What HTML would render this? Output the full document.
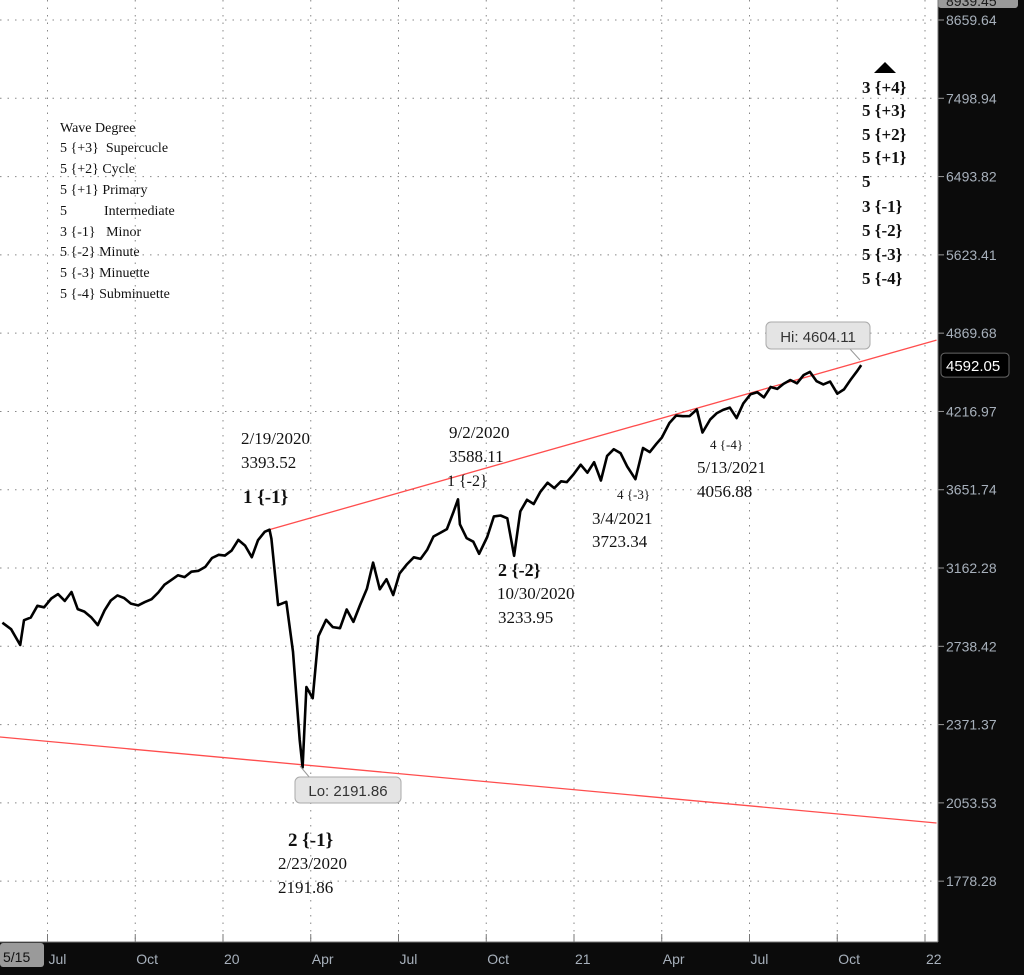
<!DOCTYPE html>
<html><head><meta charset="utf-8"><style>
body{margin:0;background:#0b0b0b;}
svg{display:block;}
.ann{font-family:"Liberation Serif",serif;fill:#111;}
.ax{font-family:"Liberation Sans",sans-serif;font-size:14px;fill:#a7b0bb;}
</style></head><body>
<svg id="c" width="1024" height="975" xmlns="http://www.w3.org/2000/svg">
<rect x="0" y="0" width="1024" height="975" fill="#0b0b0b"/>
<rect x="0" y="0" width="938" height="942" fill="#fff"/>
<g id="grid"></g>
<g id="yaxis"></g>
<g id="xaxis"></g>
<line id="upper" stroke="#ff4d4d" stroke-width="1.3"/>
<line id="lower" stroke="#ff4d4d" stroke-width="1.3"/>
<path id="price" fill="none" stroke="#000" stroke-width="2.6" stroke-linejoin="round"/>
<g class="ann" font-size="14">
<text x="60" y="132">Wave Degree</text>
<text x="60" y="152">5 {+3}&#160;&#160;Supercucle</text>
<text x="60" y="173">5 {+2}&#160;Cycle</text>
<text x="60" y="194">5 {+1}&#160;Primary</text>
<text x="60" y="215">5</text><text x="104" y="215">Intermediate</text>
<text x="60" y="236">3 {-1}&#160;&#160;&#160;Minor</text>
<text x="60" y="256">5 {-2}&#160;Minute</text>
<text x="60" y="277">5 {-3}&#160;Minuette</text>
<text x="60" y="298">5 {-4}&#160;Subminuette</text>
</g>
<g class="ann" font-size="17" font-weight="bold">
<polygon points="874,73 896,73 885,62" fill="#000"/>
<text x="862" y="93">3 {+4}</text>
<text x="862" y="116">5 {+3}</text>
<text x="862" y="140">5 {+2}</text>
<text x="862" y="163">5 {+1}</text>
<text x="862" y="187">5</text>
<text x="862" y="212">3 {-1}</text>
<text x="862" y="236">5 {-2}</text>
<text x="862" y="260">5 {-3}</text>
<text x="862" y="284">5 {-4}</text>
</g>
<g class="ann" font-size="17">
<text x="241" y="444">2/19/2020</text><text x="241" y="468">3393.52</text>
<text x="243" y="503" font-weight="bold" font-size="19">1 {-1}</text>
<text x="449" y="438">9/2/2020</text><text x="449" y="462">3588.11</text>
<text x="447" y="486" font-size="16">1 {-2}</text>
<text x="498" y="576" font-weight="bold" font-size="18">2 {-2}</text>
<text x="497" y="599">10/30/2020</text><text x="498" y="623">3233.95</text>
<text x="617" y="499" font-size="13">4 {-3}</text>
<text x="592" y="524">3/4/2021</text><text x="592" y="547">3723.34</text>
<text x="710" y="449" font-size="13">4 {-4}</text>
<text x="697" y="473">5/13/2021</text><text x="697" y="497">4056.88</text>
<text x="288" y="846" font-weight="bold" font-size="19">2 {-1}</text>
<text x="278" y="869">2/23/2020</text><text x="278" y="893">2191.86</text>
</g>
<g>
<line x1="300" y1="766" x2="310" y2="778" stroke="#999"/>
<rect x="295" y="777" width="106" height="26" rx="5" fill="#e4e4e4" stroke="#aaa"/>
<text x="348" y="796" text-anchor="middle" font-family="Liberation Sans,sans-serif" font-size="15" fill="#333">Lo: 2191.86</text>
</g>
<g>
<line x1="850" y1="349" x2="860" y2="360" stroke="#999"/>
<rect x="766" y="322" width="104" height="27" rx="5" fill="#e4e4e4" stroke="#aaa"/>
<text x="818" y="342" text-anchor="middle" font-family="Liberation Sans,sans-serif" font-size="15" fill="#333">Hi: 4604.11</text>
</g>
</svg>
<script>
const dates=["2019-05-15","2019-05-24","2019-06-03","2019-06-07","2019-06-14","2019-06-21","2019-06-28","2019-07-05","2019-07-12","2019-07-19","2019-07-26","2019-08-02","2019-08-09","2019-08-16","2019-08-23","2019-08-30","2019-09-06","2019-09-13","2019-09-20","2019-09-27","2019-10-04","2019-10-11","2019-10-18","2019-10-25","2019-11-01","2019-11-08","2019-11-15","2019-11-22","2019-11-29","2019-12-06","2019-12-13","2019-12-20","2019-12-27","2020-01-03","2020-01-10","2020-01-17","2020-01-24","2020-01-31","2020-02-07","2020-02-14","2020-02-19","2020-02-21","2020-02-28","2020-03-06","2020-03-13","2020-03-20","2020-03-23","2020-03-27","2020-04-03","2020-04-09","2020-04-17","2020-04-24","2020-05-01","2020-05-08","2020-05-15","2020-05-22","2020-05-29","2020-06-05","2020-06-12","2020-06-19","2020-06-26","2020-07-02","2020-07-10","2020-07-17","2020-07-24","2020-07-31","2020-08-07","2020-08-14","2020-08-21","2020-08-28","2020-09-02","2020-09-04","2020-09-11","2020-09-18","2020-09-24","2020-10-02","2020-10-09","2020-10-16","2020-10-23","2020-10-30","2020-11-06","2020-11-13","2020-11-20","2020-11-27","2020-12-04","2020-12-11","2020-12-18","2020-12-24","2020-12-31","2021-01-08","2021-01-15","2021-01-22","2021-01-29","2021-02-05","2021-02-12","2021-02-19","2021-02-26","2021-03-04","2021-03-12","2021-03-19","2021-03-26","2021-04-01","2021-04-09","2021-04-16","2021-04-23","2021-04-30","2021-05-07","2021-05-13","2021-05-21","2021-05-28","2021-06-04","2021-06-11","2021-06-18","2021-06-25","2021-07-02","2021-07-09","2021-07-16","2021-07-23","2021-07-30","2021-08-06","2021-08-13","2021-08-20","2021-08-27","2021-09-03","2021-09-10","2021-09-17","2021-09-24","2021-10-01","2021-10-08","2021-10-15","2021-10-22","2021-10-26"];
const closes=[2860,2826,2745,2873,2887,2950,2942,2990,3014,2977,3026,2932,2919,2889,2847,2926,2979,3007,2992,2962,2952,2970,2986,3023,3067,3093,3120,3110,3141,3146,3169,3221,3240,3235,3265,3330,3295,3226,3328,3380,3393,3338,2954,2972,2711,2305,2192,2541,2489,2790,2875,2837,2831,2930,2864,2955,3044,3194,3041,3098,3009,3130,3185,3225,3216,3271,3351,3373,3397,3508,3588,3427,3341,3319,3246,3348,3477,3483,3465,3234,3509,3585,3557,3638,3699,3663,3709,3703,3756,3824,3768,3841,3714,3886,3934,3906,3811,3723,3943,3913,3974,4019,4128,4185,4180,4181,4232,4057,4155,4204,4229,4247,4166,4280,4352,4369,4327,4411,4395,4436,4468,4441,4509,4535,4458,4432,4455,4357,4391,4471,4545,4592];
const yTicks=[8659.64,7498.94,6493.82,5623.41,4869.68,4216.97,3651.74,3162.28,2738.42,2371.37,2053.53,1778.28];
const xTickDates=["2019-07-01","2019-10-01","2020-01-01","2020-04-01","2020-07-01","2020-10-01","2021-01-01","2021-04-01","2021-07-01","2021-10-01","2022-01-01"];
const xTickLabels=["Jul","Oct","20","Apr","Jul","Oct","21","Apr","Jul","Oct","22"];
const upperLine=[["2020-02-19",3393.52],["2022-01-13",4808]];
const lowerLine=[["2019-05-12",2318],["2022-01-13",1979]];
const lastPrice=4592.05, topPrice=8939.45;

const NS="http://www.w3.org/2000/svg";
function monthsOf(d){const p=d.split("-").map(Number);return (p[0]-2019)*12+(p[1]-1)+(p[2]-1)/30.5;}
function xs(d){return 223+(monthsOf(d)-12)*29.25;}
function ys(v){return 20+544*Math.log(8659.64/v);}
function mk(tag,attrs,parent){const e=document.createElementNS(NS,tag);for(const k in attrs)e.setAttribute(k,attrs[k]);parent.appendChild(e);return e;}
const grid=document.getElementById("grid"),ya=document.getElementById("yaxis"),xa=document.getElementById("xaxis");
yTicks.forEach(v=>{const y=ys(v);
 const g=mk("line",{x1:0,x2:938,y1:y,y2:y,stroke:"#888","stroke-dasharray":"1.5 6"},grid);
 
 
 mk("line",{x1:938,x2:944,y1:y,y2:y,stroke:"#999"},ya);
 const t=mk("text",{x:946,y:y+5,class:"ax"},ya);t.textContent=v.toFixed(2);
 
 
});
{const tb=mk("rect",{x:938,y:-8,width:80,height:16,rx:3,fill:"#9a9a9a"},ya);
 
 
 const t=mk("text",{x:946,y:6,class:"ax",style:"fill:#1a1a1a"},ya);t.textContent=topPrice.toFixed(2);
 
 }
{const y=ys(lastPrice);
 const r=mk("rect",{x:941,y:y-12,width:68,height:24,rx:4,fill:"#000",stroke:"#666"},ya);
 
 
 const t=mk("text",{x:946,y:y+6,"font-family":"Liberation Sans,sans-serif","font-size":"15",fill:"#fff"},ya);t.textContent=lastPrice.toFixed(2);
 
 }
mk("line",{x1:0,x2:938,y1:942,y2:942,stroke:"#777"},xa);
mk("line",{x1:938,x2:938,y1:0,y2:942,stroke:"#777"},xa);
xTickDates.forEach((d,i)=>{const x=xs(d);
 const g=mk("line",{x1:x,x2:x,y1:0,y2:942,stroke:"#888","stroke-dasharray":"1.5 6"},grid);
 
 
 mk("line",{x1:x,x2:x,y1:934,y2:942,stroke:"#777"},xa);
 const t=mk("text",{x:x+1,y:964,class:"ax"},xa);t.textContent=xTickLabels[i];
 
 
});
{const r=mk("rect",{x:0,y:943,width:44,height:24,rx:3,fill:"#9a9a9a"},xa);
 
 
 const t=mk("text",{x:3,y:962,"font-family":"Liberation Sans,sans-serif","font-size":"14",fill:"#111"},xa);t.textContent="5/15";
 
 }
function setLine(id,pts){const l=document.getElementById(id);l.setAttribute("x1",xs(pts[0][0]));l.setAttribute("y1",ys(pts[0][1]));l.setAttribute("x2",xs(pts[1][0]));l.setAttribute("y2",ys(pts[1][1]));}
setLine("upper",upperLine);setLine("lower",lowerLine);
document.getElementById("price").setAttribute("d",dates.map((d,i)=>(i?"L":"M")+xs(d).toFixed(1)+","+ys(closes[i]).toFixed(1)).join(" "));
</script>
</body></html>
